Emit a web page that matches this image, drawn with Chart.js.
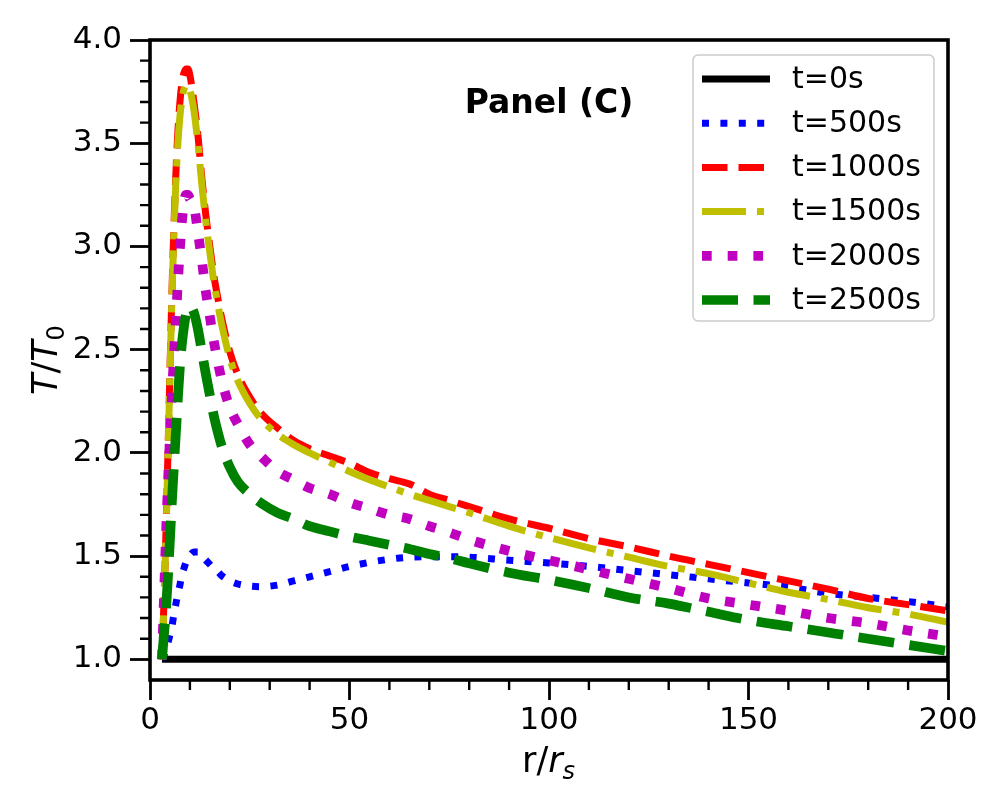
<!DOCTYPE html>
<html>
<head>
<meta charset="utf-8">
<script src="https://cdn.jsdelivr.net/npm/chart.js@4"></script>
<style>
  html, body { margin: 0; padding: 0; background: #fff; }
  #wrap { width: 1000px; height: 800px; }
</style>
</head>
<body>
<div id="wrap"><canvas id="myChart"></canvas></div>
<script>
// r / r_s sample positions (shared by every curve)
const radius = [3, 3.5, 4, 4.5, 5, 5.5, 6, 6.5, 7, 7.5, 8, 8.5, 9, 9.5, 10, 11, 12, 13, 14, 15,
  16, 17, 18, 20, 22, 25, 28, 32, 36, 40, 45, 50, 55, 60, 65, 70, 75, 80, 90, 100,
  110, 120, 130, 140, 150, 160, 170, 180, 190, 200];

// T / T0
const t0s = radius.map(() => 1.0);
const t500s = [1.0, 1.02, 1.05, 1.08, 1.12, 1.16, 1.22, 1.27, 1.32, 1.36, 1.41, 1.44, 1.47, 1.49, 1.505, 1.52, 1.52, 1.50, 1.48, 1.46,
  1.44, 1.425, 1.405, 1.38, 1.365, 1.355, 1.352, 1.36, 1.38, 1.40, 1.425, 1.45, 1.47, 1.485, 1.495, 1.497, 1.497, 1.495, 1.48, 1.467,
  1.45, 1.43, 1.41, 1.39, 1.37, 1.35, 1.32, 1.30, 1.28, 1.255];
const t1000s = [1.0, 1.28, 1.62, 2.0, 2.4, 2.78, 3.1, 3.36, 3.56, 3.7, 3.79, 3.84, 3.86, 3.86, 3.83, 3.7, 3.54, 3.33, 3.15, 3.0,
  2.86, 2.75, 2.65, 2.49, 2.38, 2.27, 2.19, 2.12, 2.06, 2.02, 1.985, 1.95, 1.905, 1.875, 1.85, 1.80, 1.77, 1.74, 1.68, 1.635,
  1.585, 1.545, 1.50, 1.46, 1.42, 1.38, 1.34, 1.295, 1.265, 1.235];
const t1500s = [1.0, 1.27, 1.6, 1.98, 2.38, 2.75, 3.07, 3.32, 3.5, 3.63, 3.71, 3.76, 3.78, 3.78, 3.76, 3.66, 3.5, 3.3, 3.12, 2.97,
  2.83, 2.72, 2.62, 2.46, 2.35, 2.24, 2.16, 2.09, 2.04, 2.0, 1.955, 1.91, 1.87, 1.835, 1.80, 1.77, 1.74, 1.71, 1.645, 1.59,
  1.54, 1.495, 1.45, 1.415, 1.37, 1.325, 1.29, 1.25, 1.22, 1.18];
const t2000s = [1.0, 1.3, 1.6, 1.85, 2.08, 2.28, 2.47, 2.65, 2.83, 2.99, 3.12, 3.21, 3.25, 3.25, 3.23, 3.2, 3.07, 2.93, 2.78, 2.66,
  2.54, 2.44, 2.35, 2.22, 2.14, 2.04, 1.98, 1.91, 1.87, 1.83, 1.80, 1.76, 1.73, 1.70, 1.68, 1.645, 1.615, 1.58, 1.525, 1.48,
  1.435, 1.39, 1.345, 1.295, 1.265, 1.235, 1.20, 1.175, 1.14, 1.11];
const t2500s = [1.0, 1.12, 1.24, 1.4, 1.58, 1.77, 1.94, 2.1, 2.27, 2.42, 2.53, 2.61, 2.67, 2.70, 2.71, 2.68, 2.60, 2.49, 2.38, 2.28,
  2.18, 2.10, 2.03, 1.93, 1.86, 1.80, 1.755, 1.71, 1.68, 1.645, 1.62, 1.595, 1.575, 1.555, 1.535, 1.51, 1.49, 1.465, 1.42, 1.385,
  1.345, 1.30, 1.27, 1.23, 1.19, 1.16, 1.13, 1.10, 1.07, 1.04];

const seriesLabels = ['t=0s', 't=500s', 't=1000s', 't=1500s', 't=2000s', 't=2500s'];
const xTicks = [0, 50, 100, 150, 200];
const yTicks = [1.0, 1.5, 2.0, 2.5, 3.0, 3.5, 4.0];
const xMinor = [10, 20, 30, 40, 60, 70, 80, 90, 110, 120, 130, 140, 160, 170, 180, 190];
const yMinor = [1.1, 1.2, 1.3, 1.4, 1.6, 1.7, 1.8, 1.9, 2.1, 2.2, 2.3, 2.4, 2.6, 2.7, 2.8, 2.9, 3.1, 3.2, 3.3, 3.4, 3.6, 3.7, 3.8, 3.9];

const FONT = "'DejaVu Sans', sans-serif";
Chart.defaults.font.family = FONT;
Chart.defaults.color = '#000';

function line(label, values, color, width, dash, order) {
  return {
    label: label,
    data: radius.map((r, i) => ({ x: r, y: values[i] })),
    borderColor: color,
    backgroundColor: color,
    borderWidth: width,
    borderDash: dash,
    borderCapStyle: 'butt',
    pointRadius: 0,
    fill: false,
    cubicInterpolationMode: 'monotone',
    order: order
  };
}

const datasets = [
  line(seriesLabels[0], t0s, '#000000', 7, [], 5),
  line(seriesLabels[1], t500s, '#0000ff', 7, [7, 11.4], 4),
  line(seriesLabels[2], t1000s, '#ff0000', 7, [25.5, 11], 3),
  line(seriesLabels[3], t1500s, '#bfbf00', 7, [44, 11, 7, 11], 2),
  line(seriesLabels[4], t2000s, '#bf00bf', 9.7, [9.7, 16], 1),
  line(seriesLabels[5], t2500s, '#008000', 9.7, [36, 15.5], 0)
];

// box round the plot, minor ticks, title text, axis labels and legend
const decor = {
  id: 'decor',
  afterDatasetsDraw(chart) {
    const { ctx, chartArea: a, scales: { x, y } } = chart;
    ctx.save();
    ctx.strokeStyle = '#000';
    ctx.lineWidth = 3.6;
    ctx.strokeRect(a.left, a.top, a.right - a.left, a.bottom - a.top);

    ctx.lineWidth = 2.4;
    ctx.beginPath();
    xMinor.forEach(v => {
      const px = x.getPixelForValue(v);
      ctx.moveTo(px, a.bottom);
      ctx.lineTo(px, a.bottom + 10);
    });
    yMinor.forEach(v => {
      const py = y.getPixelForValue(v);
      ctx.moveTo(a.left, py);
      ctx.lineTo(a.left - 10, py);
    });
    ctx.stroke();

    // panel title
    ctx.fillStyle = '#000';
    ctx.font = 'bold 33px ' + FONT;
    ctx.textAlign = 'center';
    ctx.textBaseline = 'alphabetic';
    ctx.fillText('Panel (C)', 549, 113);

    // x label r/r_s
    ctx.textAlign = 'left';
    let cx = 522;
    ctx.font = '35px ' + FONT;
    ctx.fillText('r/', cx, 772);
    cx += ctx.measureText('r/').width;
    ctx.font = 'italic 35px ' + FONT;
    ctx.fillText('r', cx, 772);
    cx += ctx.measureText('r').width;
    ctx.font = 'italic 24px ' + FONT;
    ctx.fillText('s', cx, 779);

    // y label T/T_0
    ctx.save();
    ctx.translate(57, 395);
    ctx.rotate(-Math.PI / 2);
    let cy = 0;
    ctx.font = 'italic 35px ' + FONT;
    ctx.fillText('T', cy, 0);
    cy += ctx.measureText('T').width;
    ctx.font = '35px ' + FONT;
    ctx.fillText('/', cy, 0);
    cy += ctx.measureText('/').width;
    ctx.font = 'italic 35px ' + FONT;
    ctx.fillText('T', cy, 0);
    cy += ctx.measureText('T').width;
    ctx.font = '24px ' + FONT;
    ctx.fillText('0', cy, 7);
    ctx.restore();

    // legend
    const bx = 693, by = 55, bw = 241, bh = 266;
    ctx.fillStyle = 'rgba(255,255,255,0.8)';
    ctx.strokeStyle = '#cccccc';
    ctx.lineWidth = 1.5;
    ctx.beginPath();
    ctx.roundRect(bx, by, bw, bh, 5);
    ctx.fill();
    ctx.stroke();
    chart.data.datasets.forEach((ds, i) => {
      const ly = 79 + i * 44.2;
      ctx.strokeStyle = ds.borderColor;
      ctx.lineWidth = ds.borderWidth;
      ctx.lineCap = 'butt';
      ctx.setLineDash(ds.borderDash);
      ctx.beginPath();
      ctx.moveTo(702, ly);
      ctx.lineTo(770, ly);
      ctx.stroke();
      ctx.setLineDash([]);
      ctx.fillStyle = '#000';
      ctx.font = '30px ' + FONT;
      ctx.textAlign = 'left';
      ctx.textBaseline = 'middle';
      ctx.fillText(ds.label, 792, ly + 1);
    });
    ctx.restore();
  }
};

new Chart(document.getElementById('myChart'), {
  type: 'line',
  data: { datasets: datasets },
  options: {
    responsive: true,
    maintainAspectRatio: false,
    animation: false,
    layout: { padding: { left: 0, top: 40, right: 52, bottom: 0 } },
    plugins: { legend: { display: false }, tooltip: { enabled: false } },
    scales: {
      x: {
        type: 'linear',
        min: 0,
        max: 200,
        afterBuildTicks: s => { s.ticks = xTicks.map(v => ({ value: v })); },
        afterFit: s => { s.height = 120; },
        border: { display: false },
        grid: { drawOnChartArea: false, drawTicks: true, tickLength: 20, tickWidth: 2.8, tickColor: '#000' },
        ticks: { font: { size: 31 }, color: '#000', padding: 2, maxRotation: 0, autoSkip: false,
          callback: v => String(v) }
      },
      y: {
        type: 'linear',
        min: 0.9,
        max: 4.0,
        afterBuildTicks: s => { s.ticks = yTicks.map(v => ({ value: v })); },
        afterFit: s => { s.width = 150; },
        border: { display: false },
        grid: { drawOnChartArea: false, drawTicks: true, tickLength: 20, tickWidth: 2.8, tickColor: '#000' },
        ticks: { font: { size: 31 }, color: '#000', padding: 8, autoSkip: false,
          callback: v => Number(v).toFixed(1) }
      }
    }
  },
  plugins: [decor]
});
</script>
</body>
</html>
